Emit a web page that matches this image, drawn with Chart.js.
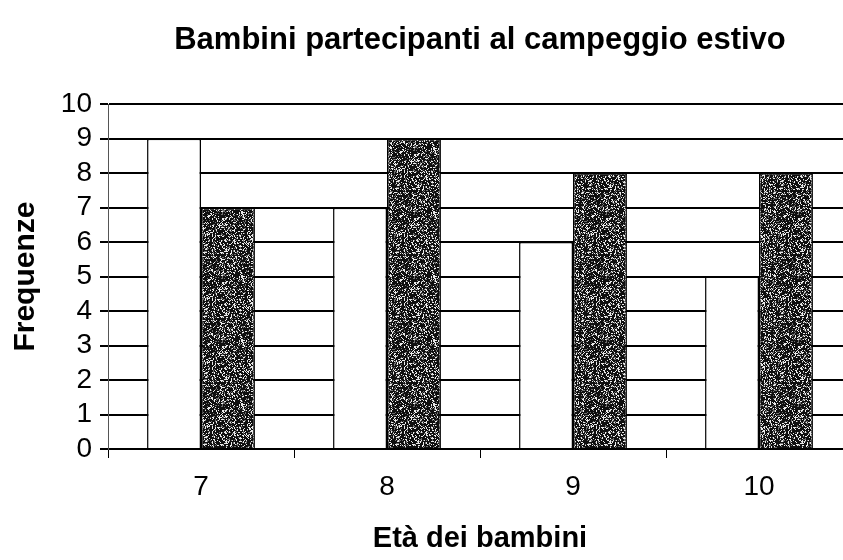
<!DOCTYPE html>
<html>
<head>
<meta charset="utf-8">
<script src="https://cdn.jsdelivr.net/npm/chart.js@4"></script>
<style>
  html, body { margin: 0; padding: 0; background: #fff; }
  #wrap { width: 843px; height: 560px; overflow: hidden; }
</style>
</head>
<body>
<div id="wrap"><canvas id="chart" width="852" height="560"></canvas></div>
<script>
const categories = ["7", "8", "9", "10"];
const seriesA = [9, 7, 6, 5];
const seriesB = [7, 9, 8, 8];
const yTicks = [0, 1, 2, 3, 4, 5, 6, 7, 8, 9, 10];

// speckled grey fill like the scanned print
function speckle() {
  const c = document.createElement("canvas");
  c.width = 64; c.height = 64;
  const g = c.getContext("2d");
  const img = g.createImageData(64, 64);
  let s = 12345;
  for (let i = 0; i < 64 * 64; i++) {
    s = (s * 1103515245 + 12345) & 0x7fffffff;
    const r = (s >> 8) % 100;
    const v = r < 66 ? 15 : (r < 80 ? 110 : 235);
    img.data[i * 4] = v;
    img.data[i * 4 + 1] = v;
    img.data[i * 4 + 2] = v;
    img.data[i * 4 + 3] = 255;
  }
  g.putImageData(img, 0, 0);
  return g.createPattern(c, "repeat");
}

Chart.defaults.font.family = "'Liberation Sans', Arial, sans-serif";
Chart.defaults.color = "#000";

new Chart(document.getElementById("chart").getContext("2d"), {
  type: "bar",
  data: {
    labels: categories,
    datasets: [
      {
        data: seriesA,
        backgroundColor: "#fff",
        borderColor: "#000",
        borderWidth: 1.5,
        barPercentage: 1,
        categoryPercentage: 0.58
      },
      {
        data: seriesB,
        backgroundColor: speckle(),
        borderColor: "#000",
        borderWidth: 1.5,
        barPercentage: 1,
        categoryPercentage: 0.58
      }
    ]
  },
  options: {
    responsive: false,
    animation: false,
    layout: { padding: 0 },
    plugins: {
      legend: { display: false },
      tooltip: { enabled: false },
      title: {
        display: true,
        fullSize: false,
        text: "Bambini partecipanti al campeggio estivo",
        font: { size: 31, weight: "bold" },
        padding: { top: 22, bottom: 45 }
      }
    },
    scales: {
      x: {
        afterFit: (axis) => { axis.height = 111; },
        grid: {
          display: true,
          offset: true,
          drawOnChartArea: false,
          drawTicks: true,
          tickLength: 9,
          color: "#000",
          lineWidth: 1
        },
        border: { display: true, color: "#000", width: 2 },
        ticks: { font: { size: 28 }, padding: 12 },
        title: {
          display: true,
          text: "Età dei bambini",
          font: { size: 29, weight: "bold" },
          padding: { top: 0, bottom: 4 }
        }
      },
      y: {
        min: 0,
        max: 10,
        afterFit: (axis) => { axis.width = 108; },
        afterBuildTicks: (axis) => { axis.ticks = yTicks.map(v => ({ value: v })); },
        grid: {
          color: "#000",
          lineWidth: 2,
          tickLength: 8
        },
        border: { display: true, color: "#555", width: 1 },
        ticks: { font: { size: 28 }, padding: 8, autoSkip: false },
        title: {
          display: true,
          text: "Frequenze",
          font: { size: 30, weight: "bold" },
          padding: { top: 8, bottom: 0 }
        }
      }
    }
  }
});
</script>
</body>
</html>
